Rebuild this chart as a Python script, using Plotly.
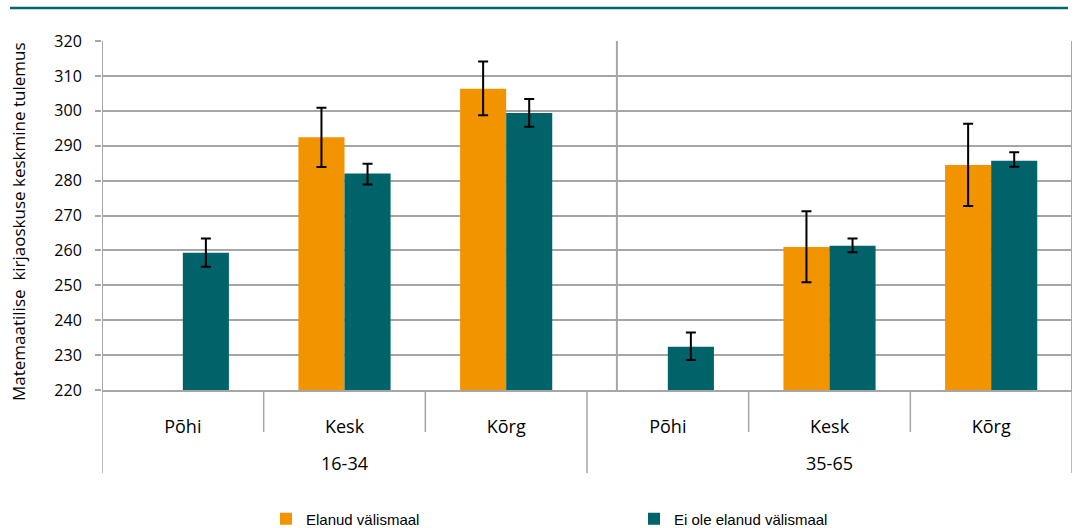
import plotly.graph_objects as go

# ---- data ----
categories = ["Põhi", "Kesk", "Kõrg", "Põhi", "Kesk", "Kõrg"]
groups = ["16-34", "35-65"]
series_names = ["Elanud välismaal", "Ei ole elanud välismaal"]

abroad = [None, 292.4, 306.3, None, 261.0, 284.5]
abroad_hi = [None, 300.9, 314.1, None, 271.2, 296.3]
abroad_lo = [None, 283.9, 298.7, None, 250.9, 272.7]

home = [259.3, 282.0, 299.4, 232.4, 261.3, 285.7]
home_hi = [263.4, 284.8, 303.4, 236.5, 263.4, 288.1]
home_lo = [255.3, 278.9, 295.4, 228.6, 259.5, 284.0]

y_ticks = [220, 230, 240, 250, 260, 270, 280, 290, 300, 310, 320]

# ---- styling ----
ORANGE = "#F29400"
TEAL = "#00636A"
GRID = "#A6A6A6"
FONT = "Open Sans, Noto Sans, DejaVu Sans, sans-serif"

xpos = list(range(len(categories)))


def plus(v, hi):
    return [None if a is None else round(b - a, 2) for a, b in zip(v, hi)]


def minus(v, lo):
    return [None if a is None else round(a - b, 2) for a, b in zip(v, lo)]


fig = go.Figure()
fig.add_trace(go.Bar(
    x=xpos, y=abroad, name=series_names[0], marker=dict(color=ORANGE, line=dict(width=0)),
    error_y=dict(type="data", symmetric=False, array=plus(abroad, abroad_hi),
                 arrayminus=minus(abroad, abroad_lo), color="black", thickness=2, width=5),
))
fig.add_trace(go.Bar(
    x=xpos, y=home, name=series_names[1], marker=dict(color=TEAL, line=dict(width=0)),
    error_y=dict(type="data", symmetric=False, array=plus(home, home_hi),
                 arrayminus=minus(home, home_lo), color="black", thickness=2, width=5),
))

shapes = []
# top decorative teal rule
shapes.append(dict(type="line", xref="paper", yref="paper", x0=(10 - 102) / 970, x1=(1068 - 102) / 970,
                   y0=(390 - 8) / 349, y1=(390 - 8) / 349, line=dict(color="#00676B", width=2.5)))
# plot area vertical lines
for xv in [-0.5, 2.685, 5.5]:
    shapes.append(dict(type="line", xref="x", yref="paper", x0=xv, x1=xv, y0=0, y1=1,
                       line=dict(color=GRID, width=2), layer="below"))
# category separators (short)
for xv in [0.5, 1.5, 3.5, 4.5]:
    shapes.append(dict(type="line", xref="x", yref="paper", x0=xv, x1=xv, y0=0, y1=(390 - 432) / 349,
                       line=dict(color=GRID, width=1.5)))
# group separators (long)
for xv in [-0.5, 2.5, 5.5]:
    shapes.append(dict(type="line", xref="x", yref="paper", x0=xv, x1=xv, y0=0, y1=(390 - 473) / 349,
                       line=dict(color=GRID, width=1.5)))

annotations = []
for i, g in enumerate(groups):
    annotations.append(dict(x=1 + 3 * i, y=(390 - 463) / 349, xref="x", yref="paper", text=g,
                            showarrow=False, font=dict(family=FONT, size=18, color="#000"),
                            xanchor="center", yanchor="middle"))
annotations.append(dict(x=(18 - 102) / 970, y=(390 - 222) / 349, xref="paper", yref="paper",
                        text="Matemaatilise  kirjaoskuse keskmine tulemus", textangle=-90,
                        showarrow=False, font=dict(family=FONT, size=17, color="#000"),
                        xanchor="center", yanchor="middle"))

fig.update_layout(
    width=1079, height=528,
    margin=dict(l=102, r=7, t=41, b=138, autoexpand=False),
    paper_bgcolor="white", plot_bgcolor="white",
    barmode="group", bargap=0.43, bargroupgap=0,
    showlegend=True,
    legend=dict(orientation="h", xref="paper", x=(266 - 102) / 970, xanchor="left",
                yref="container", y=(528 - 519) / 528, yanchor="middle",
                font=dict(family="Liberation Sans, Arial, sans-serif", size=15, color="#000"),
                entrywidth=323, entrywidthmode="pixels", itemwidth=30, bgcolor="rgba(0,0,0,0)"),
    xaxis=dict(range=[-0.5, 5.5], tickmode="array", tickvals=xpos, ticktext=categories,
               showgrid=False, zeroline=False, showline=True, linecolor=GRID, linewidth=2,
               ticks="", ticklabelstandoff=19, tickfont=dict(family=FONT, size=18, color="#000"),
               fixedrange=True),
    yaxis=dict(range=[220, 320], tickmode="array", tickvals=y_ticks, ticktext=[str(t) for t in y_ticks],
               showgrid=True, gridcolor=GRID, gridwidth=2, zeroline=False,
               showline=False, ticks="outside", ticklen=6, tickcolor=GRID, tickwidth=2,
               ticklabelstandoff=10, tickfont=dict(family=FONT, size=16, color="#000"),
               fixedrange=True),
    shapes=shapes, annotations=annotations,
)

fig.write_html("out.html", config={"displayModeBar": False},
               post_script="document.body.style.margin='0';")
